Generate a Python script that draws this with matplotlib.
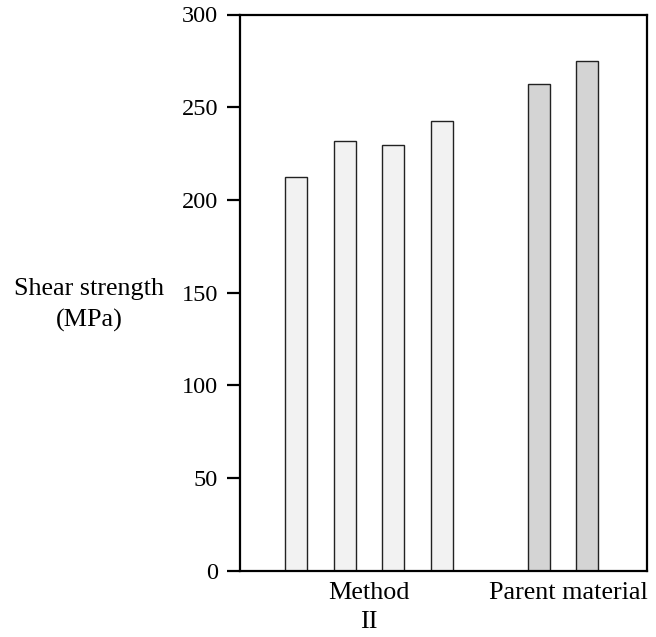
import matplotlib
matplotlib.use("Agg")
import matplotlib.pyplot as plt

plt.rcParams['font.family'] = ['Liberation Serif', 'DejaVu Serif']

positions = [0, 1, 2, 3, 5, 6]
values = [212.5, 232, 229.5, 242.5, 262.5, 275]
colors = ['#f2f2f2', '#f2f2f2', '#f2f2f2', '#f2f2f2', '#d4d4d4', '#d4d4d4']
group_ticks = [1.5, 5.62]
group_labels = ['Method\nII', 'Parent material']
yticks = [0, 50, 100, 150, 200, 250, 300]

fig = plt.figure(figsize=(6.56, 6.37), dpi=100)
W, H = 656, 637
left, right, top, bottom = 239.5, 647, 14.5, 570.7
ax = fig.add_axes([left / W, 1 - bottom / H, (right - left) / W, (bottom - top) / H])

ax.bar(positions, values, width=0.46, color=colors, edgecolor='#222222', linewidth=1.0, zorder=2)

ax.set_xlim(-1.17, 7.23)
ax.set_ylim(0, 300)
ax.set_yticks(yticks)
ax.set_yticklabels([str(v) for v in yticks], fontsize=17.5)
ax.set_xticks(group_ticks)
ax.set_xticklabels(group_labels, fontsize=18.8, linespacing=1.4)
ax.tick_params(axis='x', length=0, pad=8)
ax.tick_params(axis='y', length=9.5, width=1.6, pad=6, direction='out')
for s in ax.spines.values():
    s.set_linewidth(1.6)

fig.text(89.5 / W, 1 - 305 / H, 'Shear strength\n(MPa)', ha='center', va='center',
         fontsize=18.8, linespacing=1.45)

fig.savefig('out.png', dpi=100)
